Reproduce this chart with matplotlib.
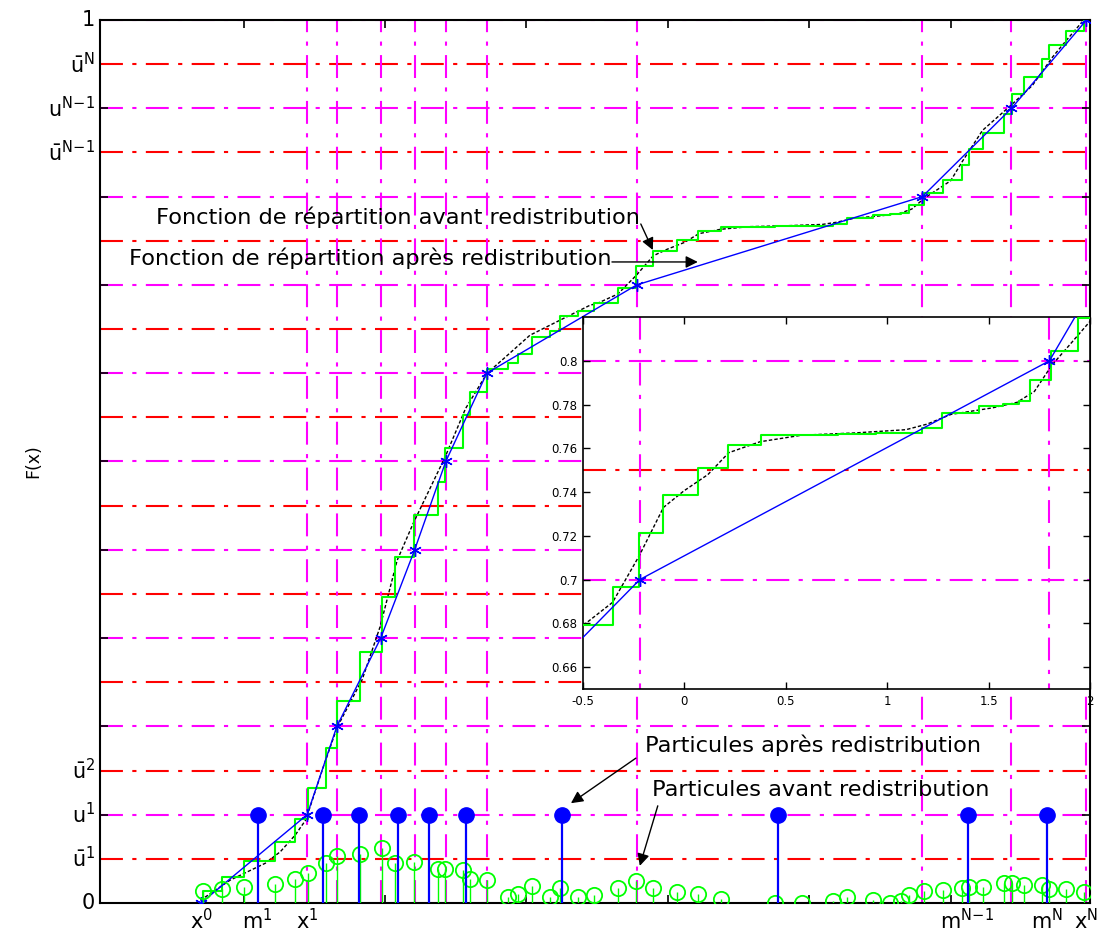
import numpy as np
import matplotlib.pyplot as plt

# boundaries x^k and levels u^k = k/N
x_bounds = [-3.30, -2.55, -2.34, -2.03, -1.79, -1.57, -1.28, -0.22, 1.80, 2.43, 2.96]
u_levels = [0.0, 0.1, 0.2, 0.3, 0.4, 0.5, 0.6, 0.7, 0.8, 0.9, 1.0]

# particles after redistribution (m^k), all with weight 1/N
m_pos = [-2.90, -2.44, -2.18, -1.91, -1.69, -1.43, -0.75, 0.78, 2.12, 2.68]
m_weight = [0.1] * 10

# particles before redistribution
p_pos = [-3.284, -3.150, -2.994, -2.775, -2.634, -2.545, -2.418, -2.338, -2.175, -2.020,
         -1.928, -1.794, -1.624, -1.575, -1.448, -1.398, -1.278, -1.130, -1.059, -0.960,
         -0.833, -0.763, -0.636, -0.523, -0.354, -0.223, -0.103, 0.068, 0.216, 0.377,
         0.756, 0.946, 1.170, 1.269, 1.452, 1.570, 1.649, 1.705, 1.808, 1.943,
         2.083, 2.133, 2.225, 2.380, 2.436, 2.521, 2.648, 2.698, 2.818, 2.945]
p_weight = [0.0138, 0.0160, 0.0181, 0.0213, 0.0266, 0.0341, 0.0458, 0.0533, 0.0554, 0.0628,
            0.0458, 0.0469, 0.0383, 0.0383, 0.0373, 0.0266, 0.0256, 0.0064, 0.0107, 0.0192,
            0.0064, 0.0170, 0.0064, 0.0085, 0.0175, 0.0246, 0.0174, 0.0126, 0.0102, 0.0045,
            0.0005, 0.0005, 0.0025, 0.0066, 0.0036, 0.0005, 0.0017, 0.0093, 0.0135, 0.0149,
            0.0168, 0.0179, 0.0179, 0.0221, 0.0221, 0.0200, 0.0200, 0.0158, 0.0158, 0.0126]

# true cdf (black)
cdf_x = [-3.305, -3.093, -2.846, -2.740, -2.634, -2.560, -2.436, -2.338, -2.161, -2.034,
         -1.914, -1.800, -1.680, -1.575, -1.430, -1.278, -1.150, -0.975, -0.763, -0.550,
         -0.500, -0.354, -0.222, -0.103, -0.003, 0.116, 0.219, 0.373, 0.579, 0.836,
         1.092, 1.195, 1.315, 1.520, 1.640, 1.726, 1.812, 1.897, 2.000, 2.083,
         2.225, 2.430, 2.578, 2.720, 2.818, 2.930]
cdf_y = [0.003, 0.026, 0.045, 0.058, 0.077, 0.094, 0.154, 0.199, 0.253, 0.313,
         0.388, 0.430, 0.470, 0.505, 0.560, 0.600, 0.618, 0.643, 0.660, 0.677,
         0.679, 0.6896, 0.711, 0.733, 0.7405, 0.748, 0.758, 0.763, 0.766, 0.767,
         0.7685, 0.771, 0.7755, 0.7785, 0.781, 0.786, 0.798, 0.807, 0.818, 0.840,
         0.875, 0.904, 0.926, 0.958, 0.977, 0.998]

ytick_pos = [0, 0.05, 0.1, 0.15, 0.85, 0.9, 0.95, 1]
ytick_txt = ['0', r'$\bar{\mathrm{u}}^{1}$', r'$\mathrm{u}^{1}$', r'$\bar{\mathrm{u}}^{2}$',
             r'$\bar{\mathrm{u}}^{N\!-\!1}$', r'$\mathrm{u}^{N\!-\!1}$', r'$\bar{\mathrm{u}}^{N}$', '1']
xlab_pos = [-3.30, -2.90, -2.55, 2.12, 2.68, 2.96]
xlab_txt = [r'$\mathrm{x}^{0}$', r'$\mathrm{m}^{1}$', r'$\mathrm{x}^{1}$',
            r'$\mathrm{m}^{N\!-\!1}$', r'$\mathrm{m}^{N}$', r'$\mathrm{x}^{N}$']

plt.rcParams['mathtext.default'] = 'regular'
GREEN = '#00ff00'
MAG = '#ff00ff'
RED = '#ff0000'
BLUE = '#0000ff'
dashdot = (0, (11, 4.5, 2, 4.5))
XMIN, XMAX = -4.015, 2.985

# empirical cdf of particles before redistribution
stair_x = [p_pos[0]] + p_pos + [x_bounds[-1]]
cum = np.cumsum(p_weight)
cum = cum / cum[-1]
stair_y = [0.0] + list(cum) + [1.0]


def draw_grid(ax, hlev, vlev):
    for y in hlev:
        c = MAG if round(y * 20) % 2 == 0 else RED
        ax.plot([XMIN, x_bounds[-1]], [y, y], color=c, lw=1.5, ls=dashdot, zorder=1)
    for x in vlev:
        ax.plot([x, x], [0, 1], color=MAG, lw=1.5, ls=dashdot, zorder=1)


def draw_curves(ax):
    ax.plot(cdf_x, cdf_y, color='k', lw=1.0, ls=(0, (2.5, 1.5)), zorder=3)
    ax.step(stair_x, stair_y, where='post', color=GREEN, lw=1.5, zorder=4)
    ax.plot(x_bounds, u_levels, color=BLUE, lw=1.0, zorder=5,
            marker=(6, 2, 0), ms=9, mew=1.0)


fig = plt.figure(figsize=(11.01, 9.36), dpi=100)
ax = fig.add_axes([0.0908, 0.0353, 0.8992, 0.9433])
ax.set_xlim(XMIN, XMAX)
ax.set_ylim(0, 1)

draw_grid(ax, [k * 0.05 for k in range(1, 21)], x_bounds[1:])
draw_curves(ax)

# particles before redistribution
ml, sl, bl = ax.stem(p_pos, p_weight, basefmt=' ')
plt.setp(sl, color=GREEN, lw=1.0, zorder=6)
plt.setp(ml, color=GREEN, marker='o', mfc='none', mec=GREEN, ms=11, mew=1.3, zorder=6)

# particles after redistribution
ml2, sl2, bl2 = ax.stem(m_pos, m_weight, basefmt=' ')
plt.setp(sl2, color=BLUE, lw=1.6, zorder=7)
plt.setp(ml2, color=BLUE, marker='o', mfc=BLUE, mec=BLUE, ms=11, zorder=7)

ax.set_xticks(range(-3, 3))
ax.set_yticks(np.arange(0, 1.01, 0.1))
ax.set_xticklabels([])
ax.set_yticklabels([])
ax.tick_params(direction='in', length=6, width=1.2, top=True, right=True)
for s in ax.spines.values():
    s.set_linewidth(1.5)

for y, t in zip(ytick_pos, ytick_txt):
    ax.text(XMIN - 0.035, y, t, ha='right', va='center', fontsize=15)
for x, t in zip(xlab_pos, xlab_txt):
    ax.text(x, -0.006, t, ha='center', va='top', fontsize=15)
ax.text(XMIN - 0.47, 0.5, 'F(x)', rotation=90, ha='center', va='center', fontsize=12.5)

# annotations
arr = dict(arrowstyle='-|>', color='k', lw=1.0, mutation_scale=18, shrinkA=0, shrinkB=0)
fs = 16.2
ax.text(-3.62, 0.777, 'Fonction de répartition avant redistribution', fontsize=fs,
        ha='left', va='center', zorder=10)
ax.annotate('', xy=(-0.106, 0.7395), xytext=(-0.191, 0.769), arrowprops=arr, zorder=10)
ax.text(-3.81, 0.730, 'Fonction de répartition après redistribution', fontsize=fs,
        ha='left', va='center', zorder=10)
ax.annotate('', xy=(0.212, 0.726), xytext=(-0.395, 0.726), arrowprops=arr, zorder=10)
ax.text(-0.16, 0.179, 'Particules après redistribution', fontsize=fs,
        ha='left', va='center', zorder=10)
ax.annotate('', xy=(-0.685, 0.113), xytext=(-0.226, 0.164), arrowprops=arr, zorder=10)
ax.text(-0.11, 0.128, 'Particules avant redistribution', fontsize=fs,
        ha='left', va='center', zorder=10)
ax.annotate('', xy=(-0.198, 0.042), xytext=(-0.071, 0.110), arrowprops=arr, zorder=10)

# inset zoom
axi = fig.add_axes([0.5295, 0.2639, 0.4605, 0.3974])
axi.set_xlim(-0.5, 2)
axi.set_ylim(0.65, 0.82)
for y in [0.7, 0.75, 0.8]:
    c = MAG if round(y * 20) % 2 == 0 else RED
    axi.plot([-0.5, 2], [y, y], color=c, lw=1.5, ls=dashdot, zorder=1)
for x in [-0.22, 1.8]:
    axi.plot([x, x], [0.6, 0.9], color=MAG, lw=1.5, ls=dashdot, zorder=1)
draw_curves(axi)
axi.set_xticks([-0.5, 0, 0.5, 1, 1.5, 2])
axi.set_xticklabels(['-0.5', '0', '0.5', '1', '1.5', '2'])
axi.set_yticks(np.arange(0.66, 0.801, 0.02))
axi.set_yticklabels(['0.66', '0.68', '0.7', '0.72', '0.74', '0.76', '0.78', '0.8'])
axi.tick_params(direction='in', length=5, width=1.0, top=True, right=True, labelsize=8.5, pad=4)
for s in axi.spines.values():
    s.set_linewidth(1.2)

fig.savefig('out.png', dpi=100)
